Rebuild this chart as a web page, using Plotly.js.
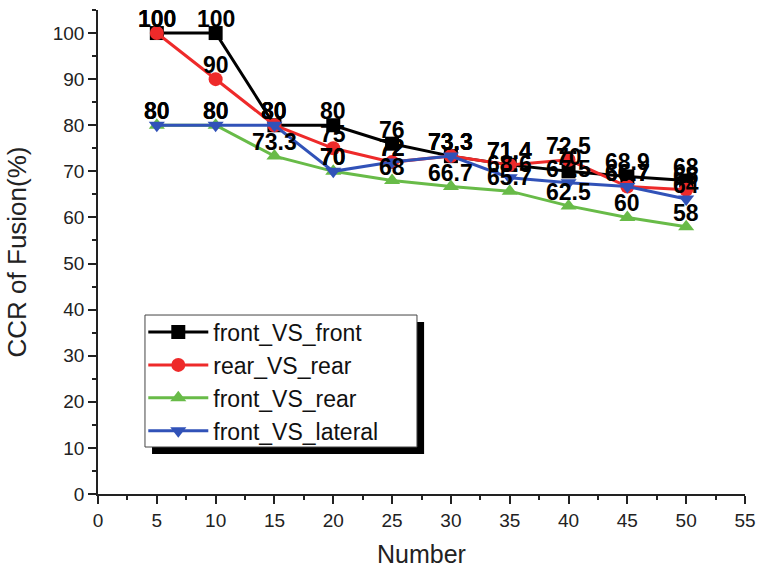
<!DOCTYPE html>
<html><head><meta charset="utf-8">
<script src="https://cdn.plot.ly/plotly-3.0.1.min.js"></script>
<style>body{margin:0;background:#fff}#chart{width:765px;height:570px}</style>
</head><body><div id="chart"></div>
<script>
const numbers = [5, 10, 15, 20, 25, 30, 35, 40, 45, 50];
const frontVsFront   = [100, 100, 80, 80, 76, 73.3, 71.4, 70, 68.9, 68];
const rearVsRear     = [100, 90, 80, 75, 72, 73.3, 71.4, 72.5, 66.7, 66];
const frontVsRear    = [80, 80, 73.3, 70, 68, 66.7, 65.7, 62.5, 60, 58];
const frontVsLateral = [80, 80, 80, 70, 72, 73.3, 68.6, 67.5, 66.7, 64];
const seriesNames = ['front_VS_front', 'rear_VS_rear', 'front_VS_rear', 'front_VS_lateral'];

const styles = [
  {color: '#000000', symbol: 'square'},
  {color: '#ee2a2a', symbol: 'circle'},
  {color: '#68bb48', symbol: 'triangle-up'},
  {color: '#3152b8', symbol: 'triangle-down'}
];
const allSeries = [frontVsFront, rearVsRear, frontVsRear, frontVsLateral];

const traces = allSeries.map((vals, i) => ({
  x: numbers, y: vals, name: seriesNames[i],
  mode: 'lines+markers',
  line: {color: styles[i].color, width: 3},
  marker: {color: styles[i].color, symbol: styles[i].symbol, size: 14},
  cliponaxis: false
}));

const annotations = [];
allSeries.forEach(vals => {
  vals.forEach((v, j) => {
    annotations.push({
      x: numbers[j], y: v, xref: 'x', yref: 'y', text: String(v),
      showarrow: false, yshift: 14,
      font: {family: 'Arial, Liberation Sans', size: 23, color: '#000', weight: 'bold'}
    });
  });
});

const layout = {
  width: 765, height: 570,
  margin: {l: 98, r: 20, t: 10, b: 76},
  paper_bgcolor: '#fff', plot_bgcolor: '#fff',
  font: {family: 'Arial, Liberation Sans', color: '#222'},
  showlegend: true,
  legend: {
    x: 0.07, y: 0.379, xanchor: 'left', yanchor: 'top',
    bgcolor: 'rgba(0,0,0,0)', borderwidth: 0,
    font: {size: 23, color: '#111'}, tracegroupgap: 0, itemwidth: 60
  },
  annotations: annotations,
  xaxis: {
    range: [0, 55], tickvals: [0,5,10,15,20,25,30,35,40,45,50,55],
    showgrid: false, zeroline: false, showline: true, linecolor: '#222', linewidth: 1.5,
    ticks: 'outside', ticklen: 8, tickcolor: '#222', tickwidth: 1.5,
    minor: {dtick: 2.5, ticks: 'outside', ticklen: 4, tickcolor: '#222', showgrid: false},
    tickfont: {size: 19, color: '#222'},
    title: {text: 'Number', font: {size: 25, color: '#222'}, standoff: 16}
  },
  yaxis: {
    range: [0, 105], tickvals: [0,10,20,30,40,50,60,70,80,90,100],
    showgrid: false, zeroline: false, showline: true, linecolor: '#222', linewidth: 1.5,
    ticks: 'outside', ticklen: 8, tickcolor: '#222', tickwidth: 1.5,
    minor: {dtick: 5, ticks: 'outside', ticklen: 4, tickcolor: '#222', showgrid: false},
    tickfont: {size: 19, color: '#222'},
    title: {text: 'CCR of Fusion(%)', font: {size: 26, color: '#222'}, standoff: 19}
  },
  shapes: [
    {type: 'rect', xref: 'paper', yref: 'paper', layer: 'above',
     x0: 0.0835, x1: 0.504, y0: 0.0826, y1: 0.3554,
     fillcolor: '#000', line: {width: 0}},
    {type: 'rect', xref: 'paper', yref: 'paper', layer: 'above',
     x0: 0.0726, x1: 0.493, y0: 0.0971, y1: 0.3698,
     fillcolor: '#fff', line: {color: '#444', width: 1}}
  ]
};

Plotly.newPlot('chart', traces, layout, {displayModeBar: false});
</script></body></html>
